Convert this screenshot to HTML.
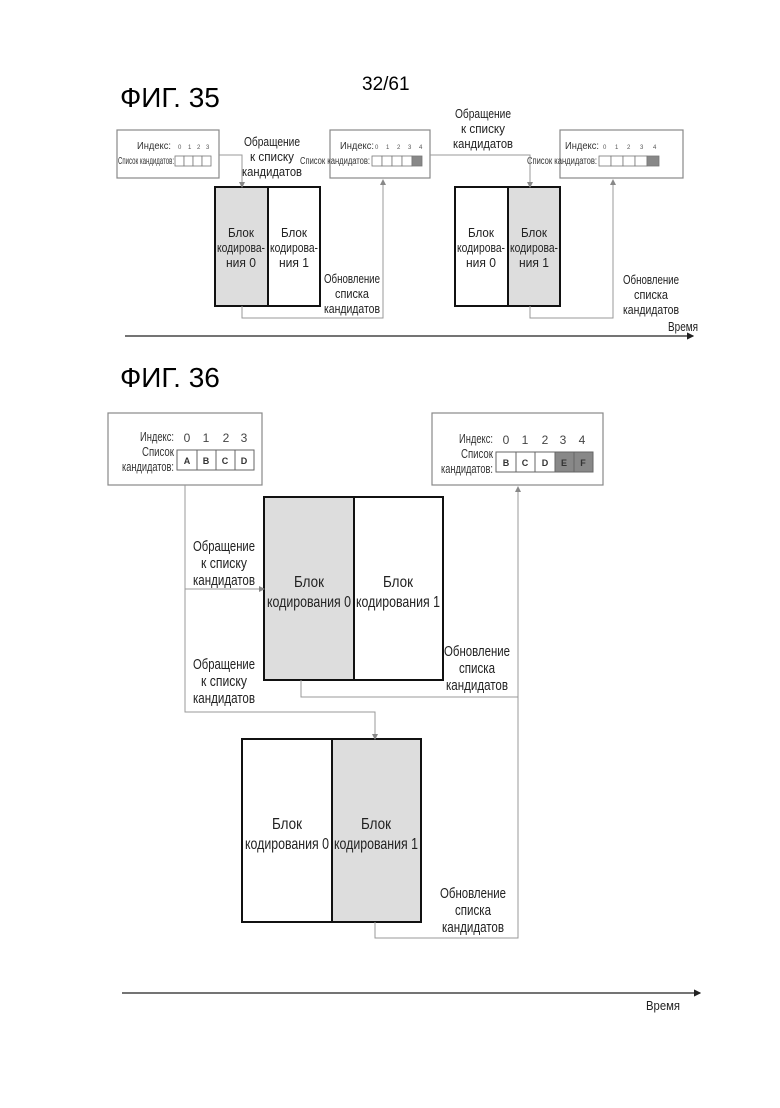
<!DOCTYPE html>
<html><head><meta charset="utf-8"><style>
html,body{margin:0;padding:0;background:#fff;}
svg text{font-family:"Liberation Sans",sans-serif;}
</style></head><body>
<svg width="780" height="1103" viewBox="0 0 780 1103" xmlns="http://www.w3.org/2000/svg">
<defs>
<marker id="a" markerWidth="6" markerHeight="6" refX="5" refY="3" orient="auto"><path d="M0,0L6,3L0,6z" fill="#888"/></marker>
<marker id="b" markerWidth="6" markerHeight="6" refX="5" refY="3" orient="auto"><path d="M0,0L6,3L0,6z" fill="#222"/></marker>
</defs>
<text x="120" y="107" font-size="28">ФИГ. 35</text>
<text x="362" y="90" font-size="19">32/61</text>

<!-- Fig35 boxes -->
<g stroke="#888" stroke-width="1.2" fill="#fff">
<rect x="117" y="130" width="102" height="48"/>
<rect x="330" y="130" width="100" height="48"/>
<rect x="560" y="130" width="123" height="48"/>
</g>
<g font-size="10" fill="#333" lengthAdjust="spacingAndGlyphs">
<text x="137" y="149" textLength="34" lengthAdjust="spacingAndGlyphs">Индекс:</text>
<text x="118" y="164" textLength="56" lengthAdjust="spacingAndGlyphs">Список кандидатов:</text>
<text x="340" y="149" textLength="34" lengthAdjust="spacingAndGlyphs">Индекс:</text>
<text x="300" y="164" textLength="70" lengthAdjust="spacingAndGlyphs">Список кандидатов:</text>
<text x="565" y="149" textLength="34" lengthAdjust="spacingAndGlyphs">Индекс:</text>
<text x="527" y="164" textLength="70" lengthAdjust="spacingAndGlyphs">Список кандидатов:</text>
</g>
<g font-size="6" fill="#555">
<text x="178" y="149">0</text><text x="188" y="149">1</text><text x="197" y="149">2</text><text x="206" y="149">3</text>
<text x="375" y="149">0</text><text x="386" y="149">1</text><text x="397" y="149">2</text><text x="408" y="149">3</text><text x="419" y="149">4</text>
<text x="603" y="149">0</text><text x="615" y="149">1</text><text x="627" y="149">2</text><text x="640" y="149">3</text><text x="653" y="149">4</text>
</g>
<g stroke="#777" stroke-width="0.8" fill="#fff">
<rect x="175" y="156" width="9" height="10"/><rect x="184" y="156" width="9" height="10"/><rect x="193" y="156" width="9" height="10"/><rect x="202" y="156" width="9" height="10"/>
<rect x="372" y="156" width="10" height="10"/><rect x="382" y="156" width="10" height="10"/><rect x="392" y="156" width="10" height="10"/><rect x="402" y="156" width="10" height="10"/><rect x="412" y="156" width="10" height="10" fill="#888"/>
<rect x="599" y="156" width="12" height="10"/><rect x="611" y="156" width="12" height="10"/><rect x="623" y="156" width="12" height="10"/><rect x="635" y="156" width="12" height="10"/><rect x="647" y="156" width="12" height="10" fill="#888"/>
</g>

<!-- Fig35 blocks -->
<rect x="215" y="187" width="53" height="119" fill="#ddd"/>
<rect x="508" y="187" width="52" height="119" fill="#ddd"/>
<g stroke="#111" stroke-width="2" fill="none">
<rect x="215" y="187" width="105" height="119"/><line x1="268" y1="187" x2="268" y2="306"/>
<rect x="455" y="187" width="105" height="119"/><line x1="508" y1="187" x2="508" y2="306"/>
</g>
<g font-size="13" text-anchor="middle" fill="#222">
<text x="241" y="237" textLength="26" lengthAdjust="spacingAndGlyphs">Блок</text><text x="241" y="252" textLength="48" lengthAdjust="spacingAndGlyphs">кодирова-</text><text x="241" y="267" textLength="30" lengthAdjust="spacingAndGlyphs">ния 0</text>
<text x="294" y="237" textLength="26" lengthAdjust="spacingAndGlyphs">Блок</text><text x="294" y="252" textLength="48" lengthAdjust="spacingAndGlyphs">кодирова-</text><text x="294" y="267" textLength="30" lengthAdjust="spacingAndGlyphs">ния 1</text>
<text x="481" y="237" textLength="26" lengthAdjust="spacingAndGlyphs">Блок</text><text x="481" y="252" textLength="48" lengthAdjust="spacingAndGlyphs">кодирова-</text><text x="481" y="267" textLength="30" lengthAdjust="spacingAndGlyphs">ния 0</text>
<text x="534" y="237" textLength="26" lengthAdjust="spacingAndGlyphs">Блок</text><text x="534" y="252" textLength="48" lengthAdjust="spacingAndGlyphs">кодирова-</text><text x="534" y="267" textLength="30" lengthAdjust="spacingAndGlyphs">ния 1</text>
<text x="272" y="146" textLength="56" lengthAdjust="spacingAndGlyphs">Обращение</text><text x="272" y="161" textLength="44" lengthAdjust="spacingAndGlyphs">к списку</text><text x="272" y="176" textLength="60" lengthAdjust="spacingAndGlyphs">кандидатов</text>
<text x="483" y="118" textLength="56" lengthAdjust="spacingAndGlyphs">Обращение</text><text x="483" y="133" textLength="44" lengthAdjust="spacingAndGlyphs">к списку</text><text x="483" y="148" textLength="60" lengthAdjust="spacingAndGlyphs">кандидатов</text>
<text x="352" y="283" textLength="56" lengthAdjust="spacingAndGlyphs">Обновление</text><text x="352" y="298" textLength="34" lengthAdjust="spacingAndGlyphs">списка</text><text x="352" y="313" textLength="56" lengthAdjust="spacingAndGlyphs">кандидатов</text>
<text x="651" y="284" textLength="56" lengthAdjust="spacingAndGlyphs">Обновление</text><text x="651" y="299" textLength="34" lengthAdjust="spacingAndGlyphs">списка</text><text x="651" y="314" textLength="56" lengthAdjust="spacingAndGlyphs">кандидатов</text>
<text x="683" y="331" textLength="30" lengthAdjust="spacingAndGlyphs">Время</text>
</g>
<g stroke="#999" stroke-width="1" fill="none">
<polyline points="219,155 242,155 242,187" marker-end="url(#a)"/>
<polyline points="242,306 242,318 383,318 383,180" marker-end="url(#a)"/>
<polyline points="430,155 530,155 530,187" marker-end="url(#a)"/>
<polyline points="530,306 530,318 613,318 613,180" marker-end="url(#a)"/>
</g>
<line x1="125" y1="336" x2="693" y2="336" stroke="#222" stroke-width="1.2" marker-end="url(#b)"/>

<!-- Fig36 -->
<text x="120" y="387" font-size="28">ФИГ. 36</text>
<g stroke="#888" stroke-width="1.2" fill="#fff">
<rect x="108" y="413" width="154" height="72"/>
<rect x="432" y="413" width="171" height="72"/>
</g>
<g font-size="13" fill="#333" text-anchor="end">
<text x="174" y="441" textLength="34" lengthAdjust="spacingAndGlyphs">Индекс:</text><text x="174" y="456" textLength="32" lengthAdjust="spacingAndGlyphs">Список</text><text x="174" y="471" textLength="52" lengthAdjust="spacingAndGlyphs">кандидатов:</text>
<text x="493" y="443" textLength="34" lengthAdjust="spacingAndGlyphs">Индекс:</text><text x="493" y="458" textLength="32" lengthAdjust="spacingAndGlyphs">Список</text><text x="493" y="473" textLength="52" lengthAdjust="spacingAndGlyphs">кандидатов:</text>
</g>
<g font-size="12" fill="#444" text-anchor="middle">
<text x="187" y="442">0</text><text x="206" y="442">1</text><text x="226" y="442">2</text><text x="244" y="442">3</text>
<text x="506" y="444">0</text><text x="525" y="444">1</text><text x="545" y="444">2</text><text x="563" y="444">3</text><text x="582" y="444">4</text>
</g>
<g stroke="#666" stroke-width="1" fill="#fff">
<rect x="177" y="450" width="20" height="20"/><rect x="197" y="450" width="19" height="20"/><rect x="216" y="450" width="19" height="20"/><rect x="235" y="450" width="19" height="20"/>
<rect x="496" y="452" width="20" height="20"/><rect x="516" y="452" width="19" height="20"/><rect x="535" y="452" width="20" height="20"/><rect x="555" y="452" width="19" height="20" fill="#888"/><rect x="574" y="452" width="19" height="20" fill="#888"/>
</g>
<g font-size="9" font-weight="bold" fill="#333" text-anchor="middle">
<text x="187" y="464">A</text><text x="206" y="464">B</text><text x="225" y="464">C</text><text x="244" y="464">D</text>
<text x="506" y="466">B</text><text x="525" y="466">C</text><text x="545" y="466">D</text><text x="564" y="466">E</text><text x="583" y="466">F</text>
</g>

<rect x="264" y="497" width="90" height="183" fill="#ddd"/>
<rect x="332" y="739" width="89" height="183" fill="#ddd"/>
<g stroke="#111" stroke-width="2" fill="none">
<rect x="264" y="497" width="179" height="183"/><line x1="354" y1="497" x2="354" y2="680"/>
<rect x="242" y="739" width="179" height="183"/><line x1="332" y1="739" x2="332" y2="922"/>
</g>
<g font-size="16" text-anchor="middle" fill="#222">
<text x="309" y="587" textLength="30" lengthAdjust="spacingAndGlyphs">Блок</text><text x="309" y="607" textLength="84" lengthAdjust="spacingAndGlyphs">кодирования 0</text>
<text x="398" y="587" textLength="30" lengthAdjust="spacingAndGlyphs">Блок</text><text x="398" y="607" textLength="84" lengthAdjust="spacingAndGlyphs">кодирования 1</text>
<text x="287" y="829" textLength="30" lengthAdjust="spacingAndGlyphs">Блок</text><text x="287" y="849" textLength="84" lengthAdjust="spacingAndGlyphs">кодирования 0</text>
<text x="376" y="829" textLength="30" lengthAdjust="spacingAndGlyphs">Блок</text><text x="376" y="849" textLength="84" lengthAdjust="spacingAndGlyphs">кодирования 1</text>
</g>
<g font-size="15" text-anchor="middle" fill="#222">
<text x="224" y="551" textLength="62" lengthAdjust="spacingAndGlyphs">Обращение</text><text x="224" y="568" textLength="46" lengthAdjust="spacingAndGlyphs">к списку</text><text x="224" y="585" textLength="62" lengthAdjust="spacingAndGlyphs">кандидатов</text>
<text x="224" y="669" textLength="62" lengthAdjust="spacingAndGlyphs">Обращение</text><text x="224" y="686" textLength="46" lengthAdjust="spacingAndGlyphs">к списку</text><text x="224" y="703" textLength="62" lengthAdjust="spacingAndGlyphs">кандидатов</text>
<text x="477" y="656" textLength="66" lengthAdjust="spacingAndGlyphs">Обновление</text><text x="477" y="673" textLength="36" lengthAdjust="spacingAndGlyphs">списка</text><text x="477" y="690" textLength="62" lengthAdjust="spacingAndGlyphs">кандидатов</text>
<text x="473" y="898" textLength="66" lengthAdjust="spacingAndGlyphs">Обновление</text><text x="473" y="915" textLength="36" lengthAdjust="spacingAndGlyphs">списка</text><text x="473" y="932" textLength="62" lengthAdjust="spacingAndGlyphs">кандидатов</text>
<text x="663" y="1010" font-size="13" textLength="34" lengthAdjust="spacingAndGlyphs">Время</text>
</g>
<g stroke="#999" stroke-width="1" fill="none">
<polyline points="185,485 185,712 375,712 375,739" marker-end="url(#a)"/>
<polyline points="185,589 264,589" marker-end="url(#a)"/>
<polyline points="301,680 301,697 518,697 518,487" marker-end="url(#a)"/>
<polyline points="375,922 375,938 518,938 518,697"/>
</g>
<line x1="122" y1="993" x2="700" y2="993" stroke="#222" stroke-width="1.2" marker-end="url(#b)"/>
</svg>
</body></html>
